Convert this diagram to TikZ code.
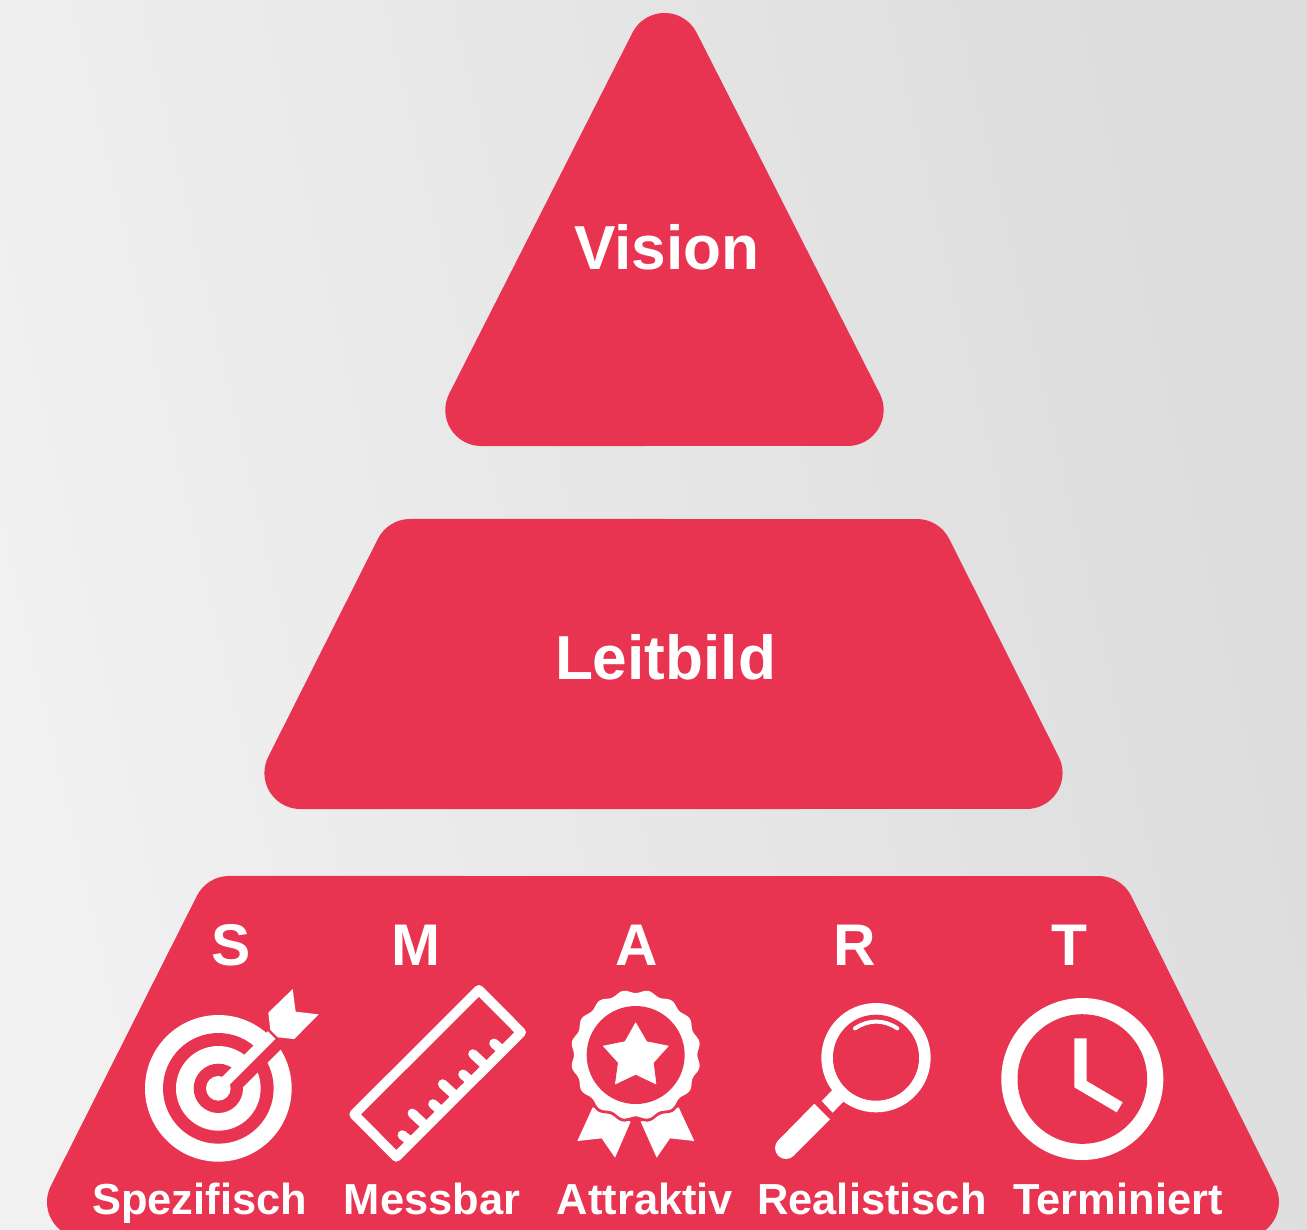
\documentclass[tikz,border=0pt]{standalone}
\usepackage{fontspec}
\setmainfont{Liberation Sans}
\definecolor{redfill}{HTML}{E83450}
\definecolor{bgL}{HTML}{F0F1F0}
\definecolor{bgR}{HTML}{DBDCDB}
\tikzset{
  block/.style={fill=redfill,draw=none},
  bigtext/.style={inner sep=0pt,anchor=base,text=white,font=\fontsize{62.4}{70}\selectfont\bfseries},
  lettertext/.style={inner sep=0pt,anchor=base,text=white,font=\fontsize{59}{66}\selectfont\bfseries},
  labeltext/.style={inner sep=0pt,anchor=base,text=white,font=\fontsize{43.6}{50}\selectfont\bfseries},
  iconfill/.style={fill=white,draw=none},
  iconcut/.style={fill=redfill,draw=none},
  zoomA/.style={shift={(120,970)},x=0.33333bp,y=-0.33333bp},
  zoomB/.style={shift={(550,970)},x=0.33333bp,y=-0.33333bp},
}
\begin{document}
\begin{tikzpicture}[x=1bp,y=-1bp]
\useasboundingbox (0,0) rectangle (1307,1229);
\clip (0,0) rectangle (1307,1229);
\shade[left color=bgL,right color=bgR,shading angle=103] (0,0) rectangle (1307,1229);
% Vision triangle
\fill[block] (632.4,32.8) arc[start angle=206.7,end angle=333.3,radius=36]
  -- (879.8,393.8) arc[start angle=-26.7,end angle=90,radius=36]
  -- (481.3,446) arc[start angle=90,end angle=206.7,radius=36] -- cycle;
% Leitbild trapezoid
\fill[block] (377.9,538.8) arc[start angle=206.7,end angle=270,radius=36]
  -- (917,519) arc[start angle=270,end angle=333.3,radius=36]
  -- (1058.7,756.8) arc[start angle=-26.7,end angle=90,radius=36]
  -- (300.4,809) arc[start angle=90,end angle=206.7,radius=36] -- cycle;
% SMART trapezoid
\fill[block] (196.9,895.8) arc[start angle=206.7,end angle=270,radius=36]
  -- (1099,876) arc[start angle=270,end angle=333.3,radius=36]
  -- (1275.1,1185.8) arc[start angle=-26.7,end angle=90,radius=36]
  -- (83,1238) arc[start angle=90,end angle=206.7,radius=36] -- cycle;
% Texts
\node[bigtext] (vision) at (667,269.5) {Vision};
\node[bigtext] (leitbild) at (665.5,679.5) {Leitbild};
\node[lettertext] (s) at (231,965) {S};
\node[lettertext] (m) at (416,965) {M};
\node[lettertext] (a) at (637,965) {A};
\node[lettertext] (r) at (855,965) {R};
\node[lettertext] (t) at (1069,965) {T};
\node[labeltext] (spez) at (199.5,1214) {Spezifisch};
\node[labeltext] (mess) at (432,1214) {Messbar};
\node[labeltext] (attr) at (645,1214) {Attraktiv};
\node[labeltext] (real) at (872,1214) {Realistisch};
\node[labeltext] (term) at (1118,1214) {Terminiert};
% Target icon
\begin{scope}[zoomA]
  \fill[iconfill] (295,355) circle (220);
  \fill[iconcut] (295,355) circle (166);
  \fill[iconfill] (295,355) circle (127);
  \fill[iconcut] (295,355) circle (74);
  \draw[redfill,line width=16.8bp] (345,340) -- (510,175);
  \fill[iconfill] (295,355) circle (37);
  \draw[white,line width=10.8bp] (295,355) -- (455,195);
  \fill[iconfill] (451,180) -- (445,128) -- (518,57) -- (527,125) -- (596,133) -- (523,207) -- (473,202) -- cycle;
  % Ruler
  \draw[white,line width=9.7bp,line join=round] (1077,59.5) -- (1203.5,187) -- (829,560.5) -- (702.5,433) -- cycle;
  \draw[white,line width=9.5bp,line cap=round]
    (847,495) -- (872,515) (877,430) -- (918,468) (939,402) -- (963,423)
    (968,342) -- (1008,379) (1029,313) -- (1053,334) (1059,252) -- (1098,288) (1122,220) -- (1145,240);
\end{scope}
% Rosette and magnifier
\begin{scope}[zoomB]
  \fill[iconfill] (128,412) -- (242,455) -- (195,563) -- (155,505) -- (82,513) -- cycle;
  \fill[iconfill] (386,412) -- (272,455) -- (320,563) -- (360,505) -- (433,513) -- cycle;
  \fill[iconcut] plot[domain=0:360,samples=240,smooth] ({257+(199-5*cos(16*\x))*cos(\x)},{254+(199-5*cos(16*\x))*sin(\x)}) -- cycle;
  \fill[iconfill] plot[domain=0:360,samples=240,smooth] ({257+(190-5*cos(16*\x))*cos(\x)},{254+(190-5*cos(16*\x))*sin(\x)}) -- cycle;
  \fill[iconcut] (257,255) circle (147);
  \fill[iconfill,draw=white,line width=0.5bp,line join=round] (257,158) -- (290,215) -- (355,228) -- (310,278) -- (318,342) -- (257,313) -- (196,342) -- (205,278) -- (160,228) -- (225,215) -- cycle;
  % Magnifier
  \fill[iconfill] (978,263) circle (164);
  \fill[iconcut] (978,263) circle (129);
  \draw[white,line width=4bp,line cap=round] (915,175) .. controls (955,148) and (1002,148) .. (1042,175);
  \fill[iconfill] (847,360) -- (880,395) -- (848,428) -- (815,393) -- cycle;
  \fill[iconfill] (793,401) -- (840,448) -- (731,557) -- (685,511) -- cycle;
  \fill[iconfill] (708,534) circle (33);
\end{scope}
% Clock
\fill[iconfill] (1082.3,1079) circle (81);
\fill[iconcut] (1082.3,1079) circle (64.8);
\fill[iconfill] (1074.3,1038.3) -- (1086.7,1038.3) -- (1086.7,1081) -- (1122.7,1102.3) -- (1116.7,1112.3) -- (1074.3,1087.3) -- cycle;
\end{tikzpicture}
\end{document}
